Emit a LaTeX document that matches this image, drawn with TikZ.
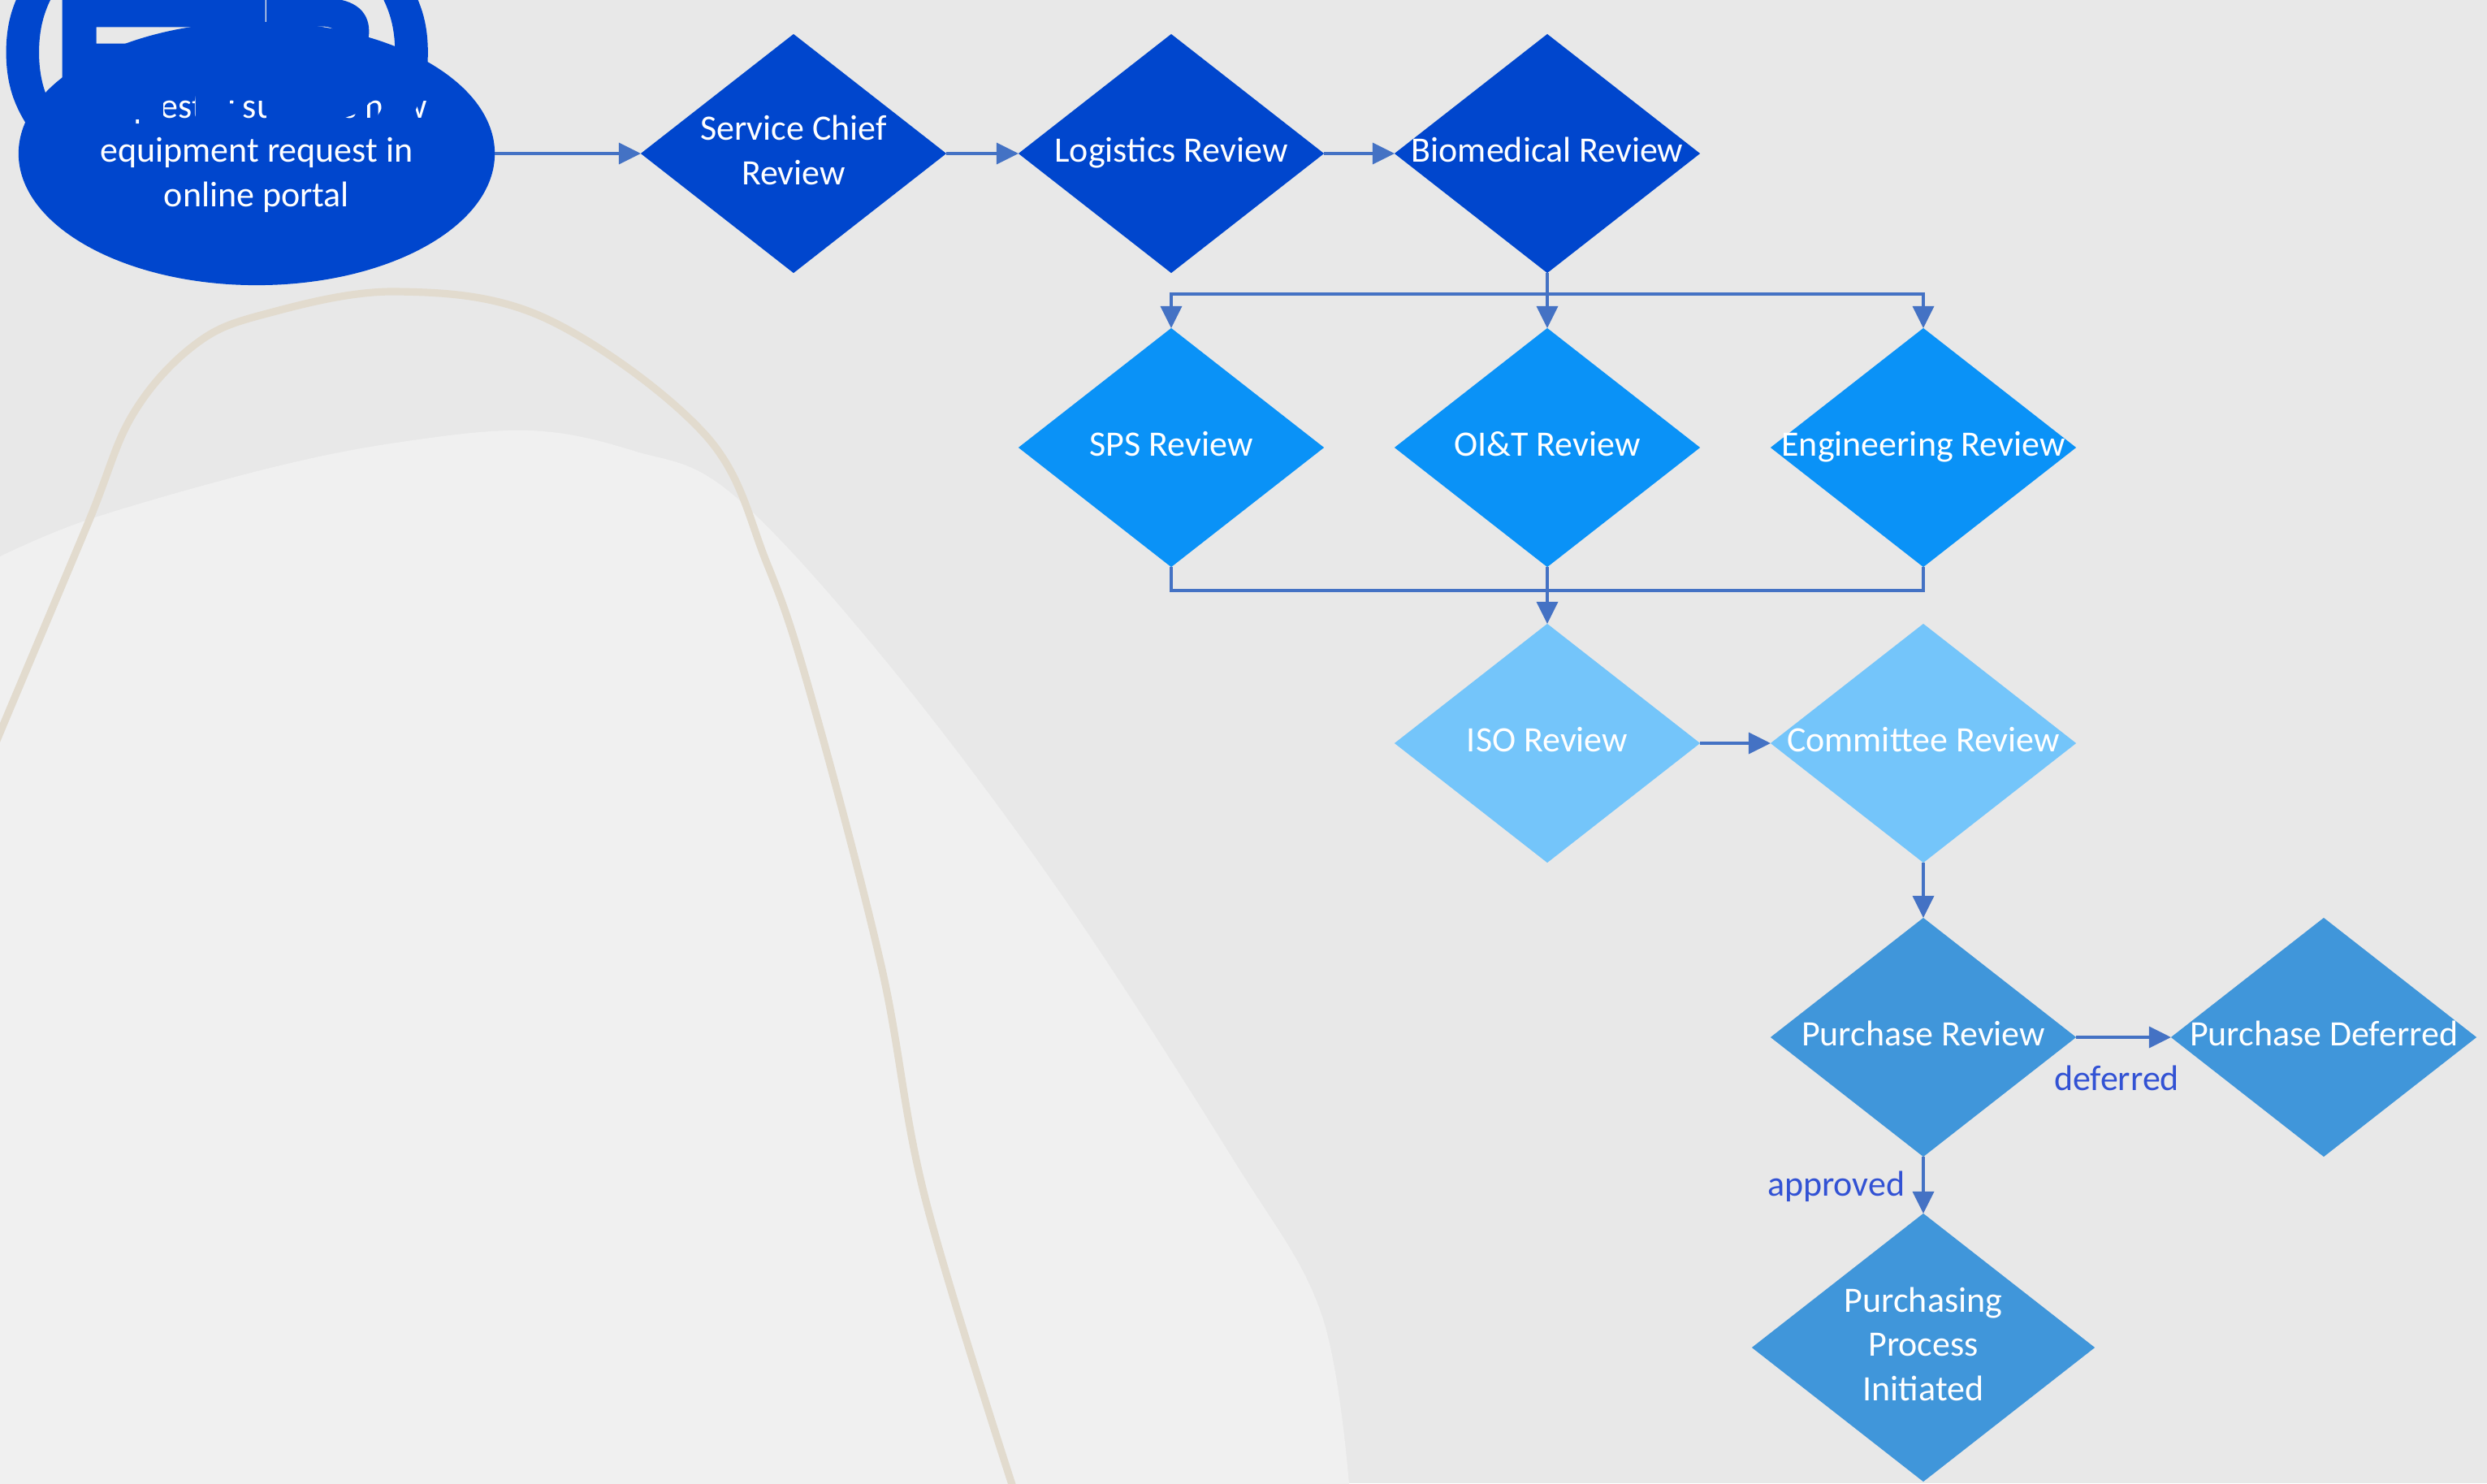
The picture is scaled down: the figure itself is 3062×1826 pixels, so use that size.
\documentclass[tikz,border=0pt]{standalone}
\usepackage{fontspec}
\setmainfont{Carlito}
\newfontfamily\etbfont{Liberation Sans}[BoldFeatures={FakeBold=7}]
\usetikzlibrary{shapes.geometric, arrows.meta}

\definecolor{bgc}{RGB}{232,232,232}
\definecolor{blobc}{RGB}{240,240,240}
\definecolor{beigec}{RGB}{226,219,206}
\definecolor{dblue}{RGB}{0,70,205}
\definecolor{mblue}{RGB}{10,146,247}
\definecolor{lblue}{RGB}{116,197,250}
\definecolor{pblue}{RGB}{64,150,218}
\definecolor{connc}{RGB}{68,114,196}
\definecolor{lblc}{RGB}{50,82,212}

\newcommand\dt[1]{\makebox[0pt]{\begin{tabular}{@{}c@{}}#1\end{tabular}}}

\begin{document}
\begin{tikzpicture}[x=0.01cm,y=-0.01cm,
  nfont/.style={font=\fontsize{12.5}{15.6}\selectfont},
  dia/.style={shape=diamond, draw=none, inner sep=0pt, outer sep=0pt,
    minimum width=3.76cm, minimum height=2.94cm, text=white, nfont},
  bigdia/.style={dia, minimum width=4.22cm, minimum height=3.30cm},
  arr/.style={draw=connc, line width=1pt, -{Triangle[length=0.27cm, width=0.26cm]}},
  conn/.style={draw=connc, line width=1pt},
  lbl/.style={text=lblc, nfont, inner sep=0pt}
]
\useasboundingbox (0,0) rectangle (3062,1826);
\fill[bgc] (0,0) rectangle (3062,1826);

\begin{scope}
\clip (0,0) rectangle (3062,1826);
\fill[blobc] plot[smooth, tension=0.6] coordinates {(-10,690) (108,640) (325,578) (488,545) (651,530) (780,555) (900,607) (1085,807) (1301,1093) (1518,1427) (1627,1618) (1662,1840)} -- (-10,1840) -- cycle;
\draw[beigec, line width=2.6pt] plot[smooth, tension=0.6] coordinates {(-10,928) (0,902) (108,645) (163,511) (239,425) (325,387) (488,359) (672,392) (868,535) (944,693) (998,855) (1085,1189) (1139,1475) (1250,1840)};
\end{scope}

% start ellipse
\node[ellipse, fill=dblue, minimum width=5.86cm, minimum height=3.24cm, inner sep=0pt, outer sep=0pt, text=white, nfont] (req) at (316,189)
  {\dt{Requestor submits new\\equipment request in\\online portal}};

\begin{scope}
\clip (0,0) rectangle (3062,1826);
\node[anchor=base west, inner sep=0pt, text=dblue] (etb) at (4,140)
  {\etbfont\bfseries\fontsize{56}{62}\selectfont\raisebox{7pt}{(}ETB\raisebox{7pt}{)}};
\end{scope}

% row 1
\node[dia, fill=dblue] (sc)  at (977,189)  {\dt{Service Chief\\Review}};
\node[dia, fill=dblue] (log) at (1442,189) {\dt{Logistics Review}};
\node[dia, fill=dblue] (bio) at (1905,189) {\dt{Biomedical Review}};

% row 2
\node[dia, fill=mblue] (sps) at (1442,551) {\dt{SPS Review}};
\node[dia, fill=mblue] (oit) at (1905,551) {\dt{OI\&T Review}};
\node[dia, fill=mblue] (eng) at (2368,551) {\dt{Engineering Review}};

% row 3
\node[dia, fill=lblue] (iso) at (1905,915) {\dt{ISO Review}};
\node[dia, fill=lblue] (com) at (2368,915) {\dt{Committee Review}};

% row 4
\node[dia, fill=pblue] (pr) at (2368,1277) {\dt{Purchase Review}};
\node[dia, fill=pblue] (pd) at (2861,1277) {\dt{Purchase Deferred}};
\node[bigdia, fill=pblue] (ppi) at (2368,1659) {\dt{Purchasing\\Process\\Initiated}};

% connectors
\draw[arr] (req.east) -- (sc.west);
\draw[arr] (sc.east) -- (log.west);
\draw[arr] (log.east) -- (bio.west);

\coordinate (split) at (1905,362);
\draw[conn] (bio.south) -- (split);
\draw[arr] (split) -| (sps.north);
\draw[arr] (split) -- (oit.north);
\draw[arr] (split) -| (eng.north);

\coordinate (join) at (1905,727);
\draw[conn] (sps.south) |- (join);
\draw[conn] (eng.south) |- (join);
\draw[arr] (oit.south) -- (iso.north);

\draw[arr] (iso.east) -- (com.west);
\draw[arr] (com.south) -- (pr.north);
\draw[arr] (pr.east) -- (pd.west);
\draw[arr] (pr.south) -- (ppi.north);

\node[lbl] (deflbl) at (2606,1327) {deferred};
\node[lbl, anchor=east] (applbl) at (2346,1461) {approved};
\end{tikzpicture}
\end{document}
